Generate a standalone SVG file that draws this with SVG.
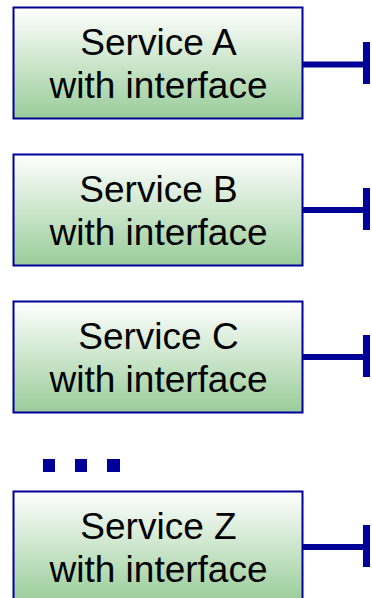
<svg xmlns="http://www.w3.org/2000/svg" width="372" height="598" viewBox="0 0 372 598">
<defs>
<linearGradient id="g" x1="0" y1="0" x2="0" y2="1">
<stop offset="0" stop-color="#ffffff"/>
<stop offset="1" stop-color="#99cc99"/>
</linearGradient>
<style>
.box{fill:url(#g);stroke:#000099;stroke-width:2}
.t{font-family:"Liberation Sans",Arial,sans-serif;font-size:37px;fill:#000;text-anchor:middle}
.c{stroke:#000099;stroke-width:6;fill:none}
.bar{stroke:#000099;stroke-width:7;fill:none}
.dot{fill:#000099}
</style>
</defs>
<rect width="372" height="598" fill="#fff"/>
<g id="serviceA">
<rect class="box" x="13.5" y="7.5" width="289" height="111"/>
<text class="t" x="158.5" y="55">Service A</text>
<text class="t" x="158.5" y="98">with interface</text>
</g>
<g id="serviceB">
<rect class="box" x="13.5" y="154.5" width="289" height="111"/>
<text class="t" x="158.5" y="202">Service B</text>
<text class="t" x="158.5" y="245">with interface</text>
</g>
<g id="serviceC">
<rect class="box" x="13.5" y="301.5" width="289" height="111"/>
<text class="t" x="158.5" y="349">Service C</text>
<text class="t" x="158.5" y="392">with interface</text>
</g>
<g id="ellipsis">
<rect class="dot" x="43" y="459" width="12" height="13"/>
<rect class="dot" x="75" y="459" width="12" height="13"/>
<rect class="dot" x="107" y="459" width="13" height="13"/>
</g>
<g id="serviceZ">
<rect class="box" x="13.5" y="491.5" width="289" height="111"/>
<text class="t" x="158.5" y="539">Service Z</text>
<text class="t" x="158.5" y="582">with interface</text>
</g>
<g id="connectors">
<path class="c" d="M303 64.5H366"/>
<path class="bar" d="M366.5 42V84"/>
<path class="c" d="M303 210H366"/>
<path class="bar" d="M366.5 188V230"/>
<path class="c" d="M303 357H366"/>
<path class="bar" d="M366.5 335V377"/>
<path class="c" d="M303 547H366"/>
<path class="bar" d="M366.5 525V567"/>
</g>
</svg>
